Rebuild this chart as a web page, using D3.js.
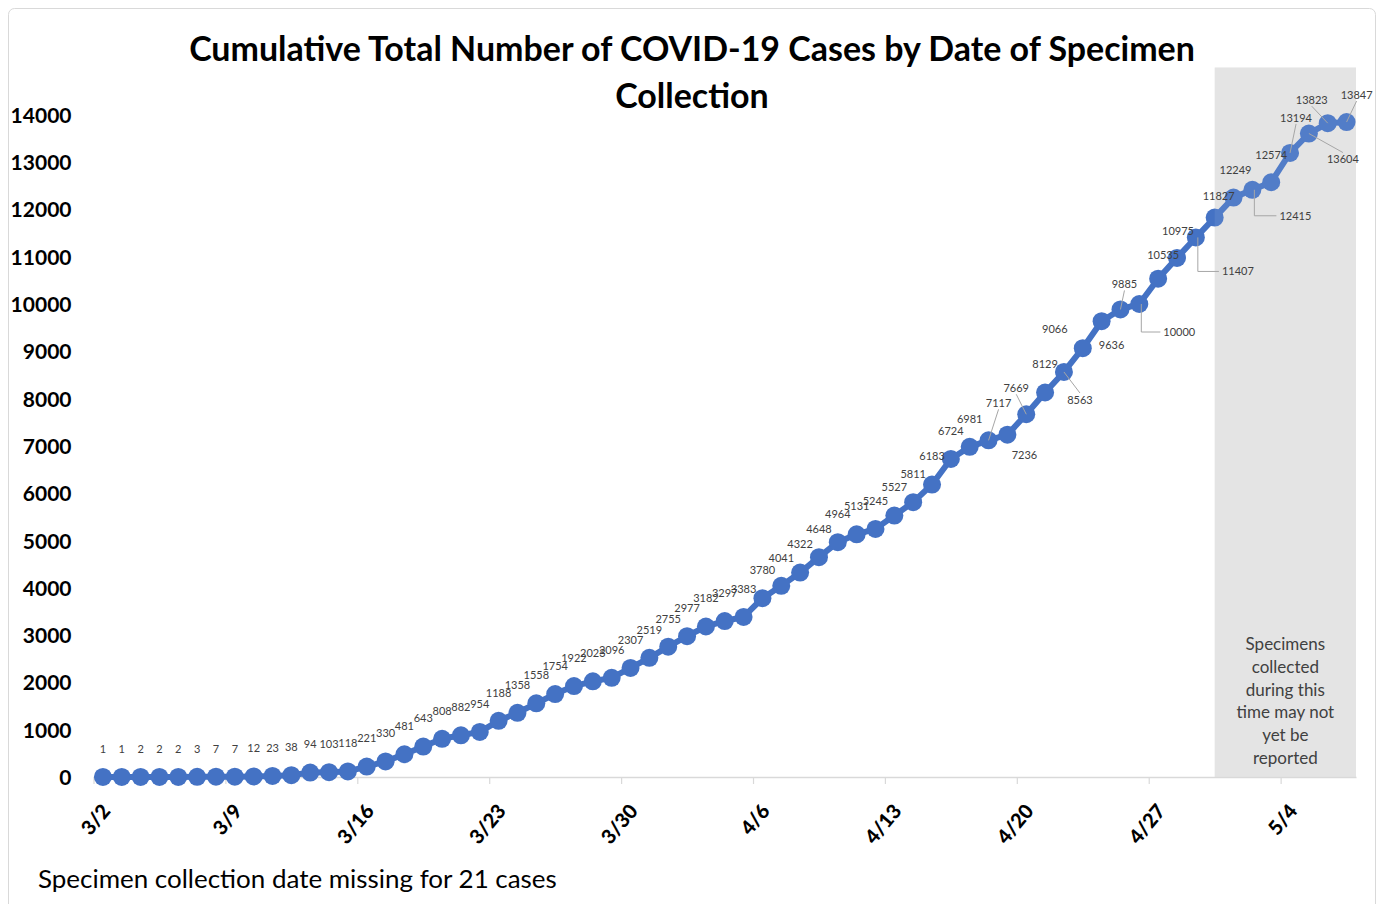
<!DOCTYPE html>
<html><head><meta charset="utf-8">
<script src="https://cdn.jsdelivr.net/npm/d3@7"></script>
<style>body{margin:0;background:#fff;} svg{display:block;}</style>
</head><body>
<svg id="chart" width="1384" height="904"></svg>
<script>
// ---------- data ----------
const dates = ["3/2","3/3","3/4","3/5","3/6","3/7","3/8","3/9","3/10","3/11","3/12","3/13","3/14","3/15","3/16","3/17","3/18","3/19","3/20","3/21","3/22","3/23","3/24","3/25","3/26","3/27","3/28","3/29","3/30","3/31",
"4/1","4/2","4/3","4/4","4/5","4/6","4/7","4/8","4/9","4/10","4/11","4/12","4/13","4/14","4/15","4/16","4/17","4/18","4/19","4/20","4/21","4/22","4/23","4/24","4/25","4/26","4/27","4/28","4/29","4/30",
"5/1","5/2","5/3","5/4","5/5","5/6","5/7"];
const cases = [1,1,2,2,2,3,7,7,12,23,38,94,103,118,221,330,481,643,808,882,954,1188,1358,1558,1754,1922,2023,2096,2307,2519,2755,2977,3182,3297,3383,3780,4041,4322,4648,4964,5131,5245,5527,5811,6183,6724,6981,7117,7236,7669,8129,8563,9066,9636,9885,10000,10535,10975,11407,11827,12249,12415,12574,13194,13604,13823,13847];
const xTickLabels = ["3/2","3/9","3/16","3/23","3/30","4/6","4/13","4/20","4/27","5/4"];
const yTickValues = [0,1000,2000,3000,4000,5000,6000,7000,8000,9000,10000,11000,12000,13000,14000];
const yMax = 15000;
const shadeStartDate = "4/30";
const titleLines = ["Cumulative Total Number of COVID-19 Cases by Date of Specimen","Collection"];
const shadeNote = ["Specimens","collected","during this","time may not","yet be","reported"];
const footnote = "Specimen collection date missing for 21 cases";

// ---------- label layout (offsets from point, leader style) ----------
const defaultOffset = [0,-28];
const labelLayout = {
  47:[10,-37,"line"], 48:[17,20], 49:[-10,-26,"line"], 51:[16,28,"line"], 52:[-28,-19], 53:[10,24],
  54:[4,-25,"line"], 55:[40,28,"elbow"], 56:[5,-24], 57:[1,-27], 58:[42,34,"elbow"], 59:[4,-21],
  60:[2,-27], 61:[43,26,"elbow"], 62:[0,-27], 63:[6,-35,"line"], 64:[34,26,"line"],
  65:[-16,-23,"line"], 66:[10,-27,"line"]
};

// ---------- chart ----------
const svg = d3.select("#chart");
const FONT = "Lato, 'Open Sans', sans-serif";
const blue = "#4472C4";

svg.append("rect").attr("x",8.5).attr("y",8.5).attr("width",1367).attr("height",920)
  .attr("rx",6).attr("fill","#fff").attr("stroke","#d9d9d9").attr("stroke-width",1);

const x = d3.scaleLinear().domain([-0.5, dates.length-0.5]).range([93.5,1356]);
const y = d3.scaleLinear().domain([0,yMax]).range([777,67.5]);

// shade
const si = dates.indexOf(shadeStartDate);
svg.append("rect").attr("x",x(si)).attr("y",y(yMax))
  .attr("width",x(dates.length-0.5)-x(si)).attr("height",y(0)-y(yMax)).attr("fill","#e2e2e2");

// x axis
const tickIdx = xTickLabels.map(l => dates.indexOf(l)-0.5);
const gx = svg.append("g").attr("transform",`translate(0,${y(0)})`)
  .call(d3.axisBottom(x).tickValues(tickIdx).tickSize(7).tickSizeOuter(0).tickFormat(v => dates[v+0.5]));
gx.select(".domain").attr("stroke","#d9d9d9").attr("stroke-width",1.5);
gx.selectAll(".tick line").attr("stroke","#d9d9d9").attr("stroke-width",1.2);
gx.selectAll(".tick text").attr("x",0).attr("y",0).attr("dy","0.35em")
  .attr("text-anchor","end").attr("transform","translate(12,30) rotate(-50)")
  .attr("font-family",FONT).attr("font-weight","900").attr("font-size",20).attr("fill","#000");

// y axis
const gy = svg.append("g").attr("transform",`translate(${x(-0.5)},0)`)
  .call(d3.axisLeft(y).tickValues(yTickValues).tickSize(0).tickPadding(22).tickFormat(d3.format("d")));
gy.select(".domain").remove();
gy.selectAll(".tick text").attr("font-family",FONT).attr("font-weight","bold")
  .attr("font-size",21).attr("fill","#000").attr("dy","0.36em");

// line + markers
svg.append("path").datum(cases)
  .attr("d", d3.line().x((d,i)=>x(i)).y(d=>y(d)))
  .attr("fill","none").attr("stroke",blue).attr("stroke-width",6).attr("stroke-linejoin","round");
svg.append("g").selectAll("circle").data(cases).join("circle")
  .attr("cx",(d,i)=>x(i)).attr("cy",d=>y(d)).attr("r",9).attr("fill",blue);

// subtle lightening over the shaded period
svg.append("rect").attr("x",x(si)).attr("y",y(yMax))
  .attr("width",x(dates.length-0.5)-x(si)).attr("height",y(0)-y(yMax))
  .attr("fill","#fff").attr("opacity",0.08);

// data labels and leaders
const lab = svg.append("g").attr("font-family",FONT).attr("font-size",11).attr("fill","#404040");
const lead = svg.append("g").attr("stroke","#a6a6a6").attr("stroke-width",1).attr("fill","none");
cases.forEach((v,i)=>{
  const L = labelLayout[i] || defaultOffset;
  const px = x(i), py = y(v);
  const lx = px + L[0], ly = py + L[1];
  const t = lab.append("text").attr("x",lx).attr("y",ly).attr("dy","0.35em")
    .attr("text-anchor","middle").text(v);
  if (L[2] === "line") {
    const sy = L[1] < 0 ? ly + 6 : ly - 7;
    lead.append("line").attr("x1",lx).attr("y1",sy).attr("x2",px).attr("y2",py);
  } else if (L[2] === "elbow") {
    const w = t.node().getComputedTextLength();
    lead.append("path").attr("d",`M${px+2},${py}V${ly}H${lx-w/2-3}`);
  }
});

// shade note
const note = svg.append("text").attr("font-family",FONT).attr("font-size",17).attr("fill","#404040")
  .attr("text-anchor","middle");
shadeNote.forEach((s,k)=>{
  note.append("tspan").attr("x",(x(si)+x(dates.length-0.5))/2).attr("y",650 + k*22.8).text(s);
});

// title
const tg = svg.append("g").attr("font-family",FONT).attr("font-weight","bold").attr("fill","#000")
  .attr("text-anchor","middle");
const t1 = tg.append("text").attr("x",692).attr("y",61).attr("font-size",32).text(titleLines[0]);
const fs = 32*1006/t1.node().getComputedTextLength();
t1.attr("font-size",fs);
tg.append("text").attr("x",692).attr("y",108).attr("font-size",fs).text(titleLines[1]);

// footnote
const fn = svg.append("text").attr("x",38).attr("y",888).attr("font-family",FONT)
  .attr("font-size",24).attr("fill","#000").text(footnote);
fn.attr("font-size",24*519/fn.node().getComputedTextLength());
</script>
</body></html>
